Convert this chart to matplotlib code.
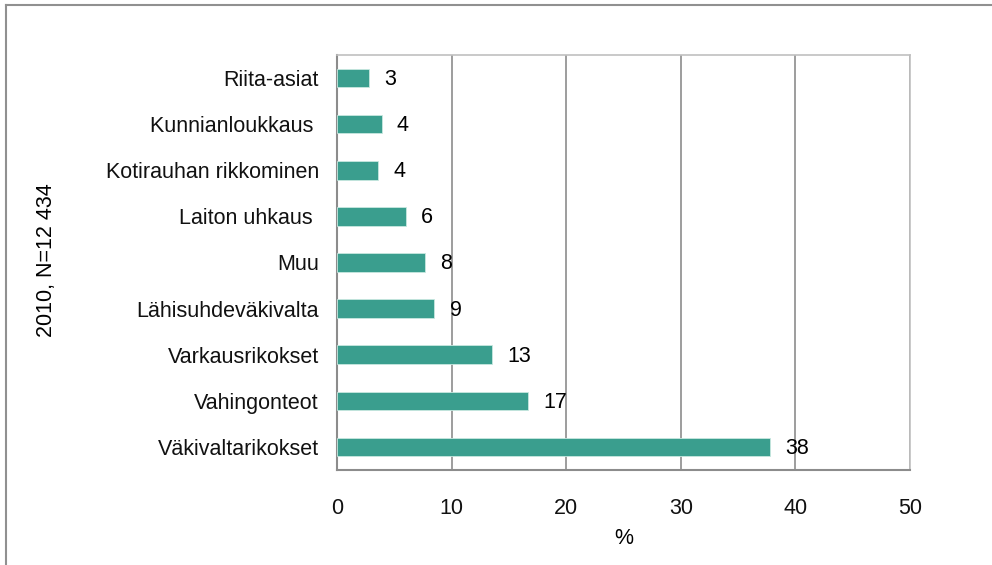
import matplotlib
matplotlib.use("Agg")
import matplotlib.pyplot as plt
from matplotlib.lines import Line2D

# data (top to bottom as in the picture)
luokat = ["Riita-asiat", "Kunnianloukkaus ", "Kotirauhan rikkominen", "Laiton uhkaus ",
          "Muu", "Lähisuhdeväkivalta", "Varkausrikokset", "Vahingonteot", "Väkivaltarikokset"]
arvot = [2.8, 3.9, 3.6, 6.0, 7.7, 8.5, 13.5, 16.7, 37.8]
rotulot = ["3", "4", "4", "6", "8", "9", "13", "17", "38"]
x_ticks = [0, 10, 20, 30, 40, 50]

plt.rcParams["font.family"] = ["Liberation Sans", "DejaVu Sans"]
plt.rcParams["font.size"] = 15.5

fig = plt.figure(figsize=(9.92, 5.65), dpi=100)
ax = fig.add_axes([337/992, 1 - 470/565, (910-337)/992, (470-55)/565])

ys = list(range(len(luokat)))
ax.barh(ys, arvot, height=0.4, color="#3a9e8e", edgecolor="#c8e8e0", linewidth=0.6, zorder=3)
ax.set_ylim(len(luokat) - 0.5, -0.5)
ax.set_yticks(ys, luokat)
ax.set_xlim(0, 50)
ax.set_xticks(x_ticks)

for y, v, r in zip(ys, arvot, rotulot):
    ax.annotate(r, (v, y), textcoords="offset points", xytext=(11, -1),
                ha="left", va="center", fontsize=15.5, zorder=4)

ax.grid(axis="x", color="#8c8c8c", linewidth=1.2, zorder=1)
ax.tick_params(axis="both", length=0, colors="#111111")
ax.tick_params(axis="x", pad=20.5)
ax.tick_params(axis="y", pad=13)
for s in ["left", "bottom"]:
    ax.spines[s].set_color("#8c8c8c")
    ax.spines[s].set_linewidth(1.5)
for s in ["top", "right"]:
    ax.spines[s].set_color("#c0c0c0")
    ax.spines[s].set_linewidth(1.2)

ax.set_xlabel("%", labelpad=6)
fig.text(47/992, 1 - 260/565, "2010, N=12 434", rotation=90, ha="center", va="center", fontsize=15.5)

# outer frame (only left and top visible)
fig.add_artist(Line2D([6/992, 6/992], [0, 1 - 5/565], transform=fig.transFigure, color="#909090", linewidth=1.5))
fig.add_artist(Line2D([6/992, 1], [1 - 5/565, 1 - 5/565], transform=fig.transFigure, color="#909090", linewidth=1.5))

fig.savefig("out.png", dpi=100)
